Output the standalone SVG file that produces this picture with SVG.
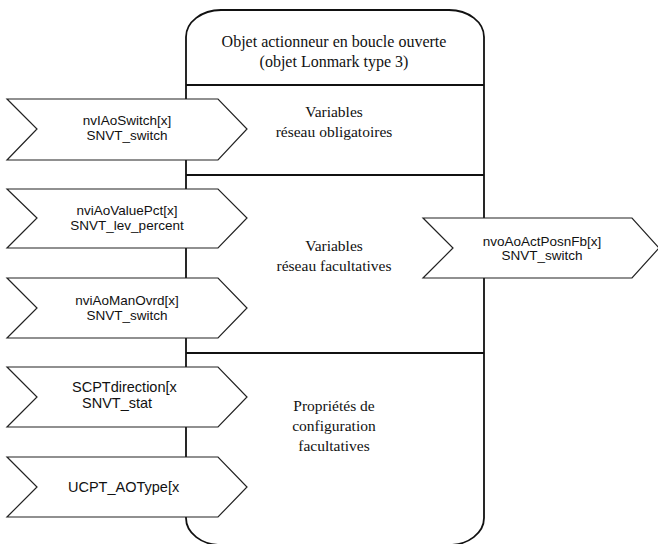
<svg xmlns="http://www.w3.org/2000/svg" width="658" height="544" viewBox="0 0 658 544">
<style>
.box{fill:#fff;stroke:#111;stroke-width:1.8}
.div{stroke:#111;stroke-width:1.8}
.tag{fill:#fff;stroke:#222;stroke-width:1.2}
.serif{font-family:"Liberation Serif","Times New Roman",serif;font-size:15.5px;fill:#111;text-anchor:middle}
.sans{font-family:"Liberation Sans",Arial,sans-serif;font-size:13.5px;fill:#111;text-anchor:middle}
.sansL{font-family:"Liberation Sans",Arial,sans-serif;font-size:14.5px;fill:#111}
</style>
<rect width="658" height="544" fill="#fff"/>
<g id="object">
<path class="box" d="M186,37 A35,27 0 0 1 221,10 H449 A35,27 0 0 1 484,37 V518 A35,27 0 0 1 449,545 H221 A35,27 0 0 1 186,518 Z"/>
<line class="div" x1="186" y1="85" x2="484" y2="85"/>
<line class="div" x1="186" y1="175" x2="484" y2="175"/>
<line class="div" x1="186" y1="353" x2="484" y2="353"/>
<text class="serif" x="334" y="47" style="font-size:16px">Objet actionneur en boucle ouverte</text>
<text class="serif" x="334" y="67" style="font-size:16px">(objet Lonmark type 3)</text>
<text class="serif" x="334" y="117">Variables</text>
<text class="serif" x="334" y="137">réseau obligatoires</text>
<text class="serif" x="334" y="251">Variables</text>
<text class="serif" x="334" y="271">réseau facultatives</text>
<text class="serif" x="334" y="411">Propriétés de</text>
<text class="serif" x="334" y="431">configuration</text>
<text class="serif" x="334" y="451">facultatives</text>
</g>
<g id="nviAoSwitch">
<polygon class="tag" points="7,99 218,99 247,129 218,160 7,160 37,129"/>
<text class="sans" x="127" y="125">nvIAoSwitch[x]</text>
<text class="sans" x="127" y="140">SNVT_switch</text>
</g>
<g id="nviAoValuePct">
<polygon class="tag" points="7,189 218,189 247,218 218,248 7,248 37,218"/>
<text class="sans" x="127" y="215">nviAoValuePct[x]</text>
<text class="sans" x="127" y="230">SNVT_lev_percent</text>
</g>
<g id="nviAoManOvrd">
<polygon class="tag" points="7,278 218,278 247,308 218,338 7,338 37,308"/>
<text class="sans" x="127" y="305">nviAoManOvrd[x]</text>
<text class="sans" x="127" y="320">SNVT_switch</text>
</g>
<g id="SCPTdirection">
<polygon class="tag" points="7,367 218,367 247,397 218,427 7,427 37,397"/>
<text class="sansL" x="72" y="392">SCPTdirection[x</text>
<text class="sansL" x="82" y="408">SNVT_stat</text>
</g>
<g id="UCPT_AOType">
<polygon class="tag" points="7,457 218,457 247,487 218,517 7,517 37,487"/>
<text class="sansL" x="68" y="492">UCPT_AOType[x</text>
</g>
<g id="nvoAoActPosnFb">
<polygon class="tag" points="423,218 632,218 659,248 632,278 423,278 453,248"/>
<text class="sans" x="542" y="246">nvoAoActPosnFb[x]</text>
<text class="sans" x="542" y="260">SNVT_switch</text>
</g>
<g id="connectors"/>
</svg>
